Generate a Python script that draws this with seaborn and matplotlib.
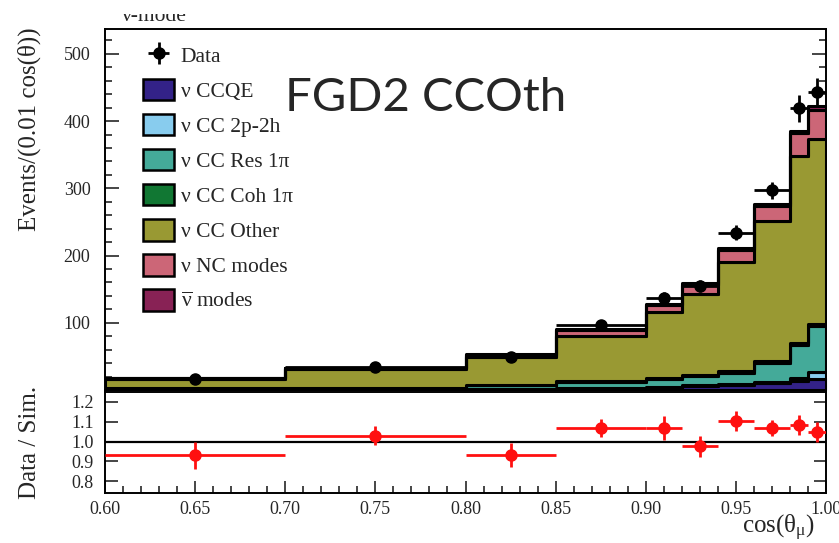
import numpy as np
import pandas as pd
import matplotlib
matplotlib.use("Agg")
import matplotlib.pyplot as plt
import seaborn as sns
from matplotlib.patches import Patch
from matplotlib.ticker import MultipleLocator, FixedLocator
from matplotlib.transforms import Bbox, TransformedBbox

# ---- binning in cos(theta_mu) ----
bin_edges = [0.60, 0.70, 0.80, 0.85, 0.90, 0.92, 0.94, 0.96, 0.98, 0.99, 1.00]

# ---- simulated interaction modes, events per 0.01 cos(theta) ----
ccqe = [0.5, 0.8, 1.5, 2.5, 3.5, 6.0, 8.0, 10.5, 13.0, 16.0]
cc_2p2h = [0.3, 0.4, 0.5, 0.8, 0.8, 1.0, 1.2, 2.0, 5.0, 11.0]
cc_res1pi = [1.5, 2.0, 5.0, 9.0, 12.0, 14.0, 16.5, 28.0, 49.0, 68.0]
cc_coh1pi = [0.5, 0.5, 0.8, 1.0, 1.2, 1.5, 2.0, 2.5, 3.0, 3.0]
cc_other = [13.7, 27.0, 42.0, 67.0, 98.5, 121.0, 163.0, 208.0, 278.0, 276.0]
nc_modes = [1.0, 2.0, 3.0, 9.0, 10.0, 13.0, 18.0, 23.0, 34.0, 43.0]
antinu_modes = [0.3, 0.4, 0.5, 1.0, 2.0, 2.5, 3.0, 3.0, 4.0, 5.0]

# ---- data ----
data_x = [0.65, 0.75, 0.825, 0.875, 0.91, 0.93, 0.95, 0.97, 0.985, 0.995]
data_y = [16.5, 34, 49, 97, 137, 155, 234, 297, 419, 443]
data_yerr = [1.3, 1.8, 3.1, 4.4, 8.3, 8.8, 10.8, 12.2, 20.5, 21.0]
ratio = [0.93, 1.03, 0.93, 1.07, 1.07, 0.975, 1.105, 1.07, 1.085, 1.05]
ratio_err = [0.07, 0.05, 0.06, 0.045, 0.06, 0.055, 0.05, 0.04, 0.05, 0.05]

mode_labels = ["ν CCQE", "ν CC 2p-2h", "ν CC Res 1π", "ν CC Coh 1π",
               "ν CC Other", "ν NC modes", r"$\overline{\mathrm{ν}}$ modes"]
mode_values = [ccqe, cc_2p2h, cc_res1pi, cc_coh1pi, cc_other, nc_modes, antinu_modes]
mode_colors = ["#332288", "#88CCEE", "#44AA99", "#117733",
               "#999933", "#CC6677", "#882255"]

sns.set_style("ticks")
plt.rcParams["font.family"] = ["Liberation Serif", "DejaVu Serif"]
plt.rcParams["mathtext.fontset"] = "custom"
plt.rcParams["mathtext.rm"] = "Liberation Serif"
plt.rcParams["mathtext.it"] = "Liberation Serif:italic"

edges = np.array(bin_edges)
centers = (edges[:-1] + edges[1:]) / 2
half_widths = np.diff(edges) / 2

frame = pd.DataFrame({
    "cos": np.tile(centers, len(mode_labels)),
    "events": np.concatenate([np.asarray(v, float) for v in mode_values]),
    "mode": np.repeat(mode_labels, len(centers)),
})

W, H = 839, 543
fig = plt.figure(figsize=(W / 100, H / 100), dpi=100)
ax_top = fig.add_axes([105 / W, 1 - 390 / H, 721 / W, 361 / H])
ax_bot = fig.add_axes([105 / W, 1 - 493 / H, 721 / W, 101 / H])

# stacked histogram; seaborn stacks the first hue level on top
sns.histplot(data=frame, x="cos", weights="events", hue="mode",
             hue_order=mode_labels[::-1],
             palette=dict(zip(mode_labels, mode_colors)),
             bins=bin_edges, multiple="stack", element="step", fill=True,
             alpha=1.0, edgecolor="black", linewidth=2.2, legend=False,
             ax=ax_top)

data_handle = ax_top.errorbar(data_x, data_y, xerr=half_widths, yerr=data_yerr,
                              fmt="o", color="black", ms=8, lw=2, capsize=0,
                              zorder=6, label="Data")

ax_top.set_xlim(0.6, 1.0)
ax_top.set_ylim(0, 537)
ax_top.yaxis.set_major_locator(FixedLocator([100, 200, 300, 400, 500]))
ax_top.yaxis.set_minor_locator(MultipleLocator(20))
ax_top.xaxis.set_major_locator(MultipleLocator(0.05))
ax_top.xaxis.set_minor_locator(MultipleLocator(0.01))
ax_top.tick_params(axis="x", which="both", labelbottom=False, direction="in")
ax_top.tick_params(axis="x", which="major", length=9)
ax_top.tick_params(axis="x", which="minor", length=5)
ax_top.tick_params(axis="y", which="both", direction="in", right=True,
                   labelsize=13, width=1.2, pad=10.5)
ax_top.tick_params(axis="y", which="major", length=10)
ax_top.tick_params(axis="y", which="minor", length=5)
ax_top.set_xlabel("")
ax_top.set_ylabel("Events/(0.01 cos(θ))", fontsize=18, loc="top")
ax_top.yaxis.set_label_coords(-0.0888, 1.005)
for s in ax_top.spines.values():
    s.set_linewidth(1.4)
    s.set_color("black")

handles = [data_handle] + [
    Patch(facecolor=c, edgecolor="black", linewidth=1.8, label=l)
    for l, c in zip(mode_labels, mode_colors)
]
ax_top.legend(handles=handles, loc="upper left",
              bbox_to_anchor=(38 / 721, 1 - 15 / 361), frameon=False,
              fontsize=15.5, handlelength=1.45, handleheight=1.15,
              handletextpad=0.3, labelspacing=0.56, borderaxespad=0,
              borderpad=0)

# ratio panel
ax_bot.axhline(1.0, color="black", lw=1.6, zorder=2)
ax_bot.errorbar(data_x, ratio, xerr=half_widths, yerr=ratio_err, fmt="o",
                color="#ff1010", ms=8, lw=2, capsize=0, zorder=4)
ax_bot.set_xlim(0.6, 1.0)
ax_bot.set_ylim(0.74, 1.25)
ax_bot.xaxis.set_major_locator(MultipleLocator(0.05))
ax_bot.xaxis.set_minor_locator(MultipleLocator(0.01))
ax_bot.xaxis.set_major_formatter(plt.FormatStrFormatter("%.2f"))
ax_bot.yaxis.set_major_locator(FixedLocator([0.8, 0.9, 1.0, 1.1, 1.2]))
ax_bot.yaxis.set_major_formatter(plt.FormatStrFormatter("%.1f"))
ax_bot.tick_params(axis="both", which="both", direction="in", labelsize=13,
                   width=1.2)
ax_bot.tick_params(axis="y", which="major", right=True, length=9, pad=8)
ax_bot.tick_params(axis="x", which="major", length=9, pad=6)
ax_bot.tick_params(axis="x", which="minor", length=5)
ax_bot.set_ylabel("Data / Sim.", fontsize=18)
ax_bot.yaxis.set_label_coords(-0.0888, 0.5)
ax_bot.set_xlabel(r"cos(θ$_{\mathrm{μ}}$)", fontsize=18, loc="right")
ax_bot.xaxis.set_label_coords(0.985, -0.2)
ax_bot.xaxis.label.set_va("top")
for s in ax_bot.spines.values():
    s.set_linewidth(1.4)
    s.set_color("black")

# panel title, partly running off the top of the canvas
title = fig.text(122 / W, 1 - 21 / H, "ν-mode", fontsize=15.5,
                 ha="left", va="baseline")
title.set_clip_box(TransformedBbox(Bbox([[0, 0], [1, 1 - 14 / H]]),
                                   fig.transFigure))
title.set_clip_on(True)

fig.text(285 / W, 1 - 98 / H, "FGD2 CCOth", fontsize=34, family="Lato",
         ha="left", va="center")

fig.savefig("out.png", dpi=100)
